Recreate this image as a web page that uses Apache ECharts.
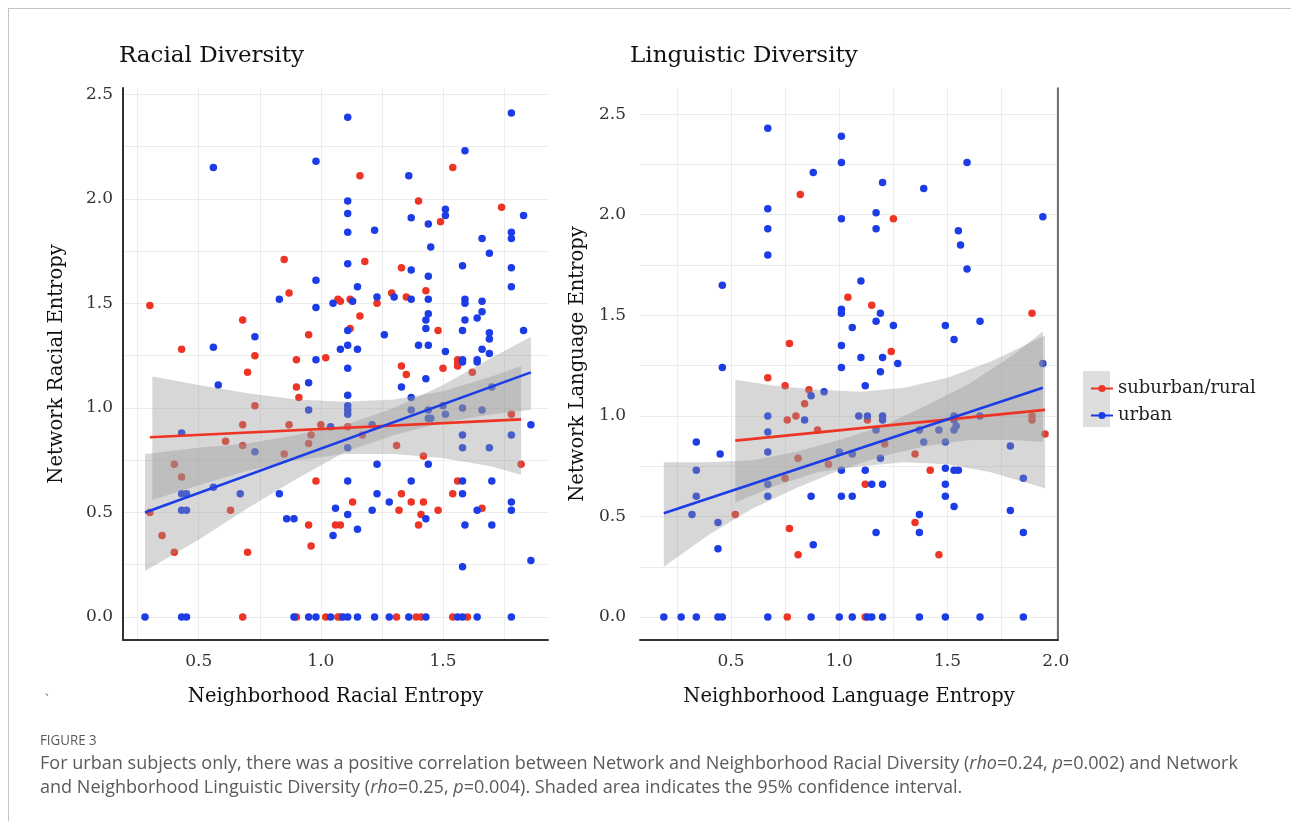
<!DOCTYPE html>
<html><head><meta charset="utf-8">
<script src="https://cdn.jsdelivr.net/npm/echarts@6/dist/echarts.min.js"></script>
<style>
html,body{margin:0;padding:0;background:#fff;overflow:hidden;}
#chart{position:absolute;left:0;top:0;width:1291px;height:821px;}
#frame{position:absolute;left:8px;top:8px;width:1290px;height:820px;border-left:1px solid #c4c4c4;border-top:1px solid #c4c4c4;pointer-events:none;}
.cap{position:absolute;font-family:'Open Sans',sans-serif;color:#5a5a5a;white-space:nowrap;transform-origin:0 0;}
</style></head><body>
<div id="chart"></div>
<div id="frame"></div>
<div class="cap" style="left:45px;top:690px;font-size:14px;color:#777;">`</div>
<div class="cap" id="fig" style="left:40px;top:730px;font-size:14px;">FIGURE 3</div>
<div class="cap" id="l1" style="left:40px;top:749px;font-size:19px;">For urban subjects only, there was a positive correlation between Network and Neighborhood Racial Diversity (<i>rho</i>=0.24, <i>p</i>=0.002) and Network</div>
<div class="cap" id="l2" style="left:40px;top:773px;font-size:19px;">and Neighborhood Linguistic Diversity (<i>rho</i>=0.25, <i>p</i>=0.004). Shaded area indicates the 95% confidence interval.</div>
<script>
// ---------- DATA ----------
// Racial diversity panel: [neighborhood entropy, network entropy]
var racialRural = [
 [0.85,1.71],[0.87,1.55],[0.30,1.49],[1.07,1.52],[0.68,1.42],[0.95,1.35],[0.43,1.28],[0.73,1.25],[0.90,1.23],[1.02,1.24],
 [1.54,2.15],[1.16,2.11],[1.40,1.99],[1.49,1.89],[1.74,1.96],[1.18,1.70],[1.33,1.67],[1.43,1.56],[1.08,1.51],[1.12,1.52],
 [1.23,1.50],[1.29,1.55],[1.35,1.53],[1.16,1.44],[1.12,1.38],[1.48,1.37],[1.56,1.23],
 [0.70,1.17],[0.90,1.10],[0.91,1.05],[0.73,1.01],[0.68,0.92],[0.87,0.92],[1.00,0.92],[0.96,0.87],[0.61,0.84],[0.68,0.82],
 [0.95,0.83],[0.85,0.78],[0.40,0.73],[0.43,0.67],[0.98,0.65],[0.30,0.50],[0.63,0.51],[0.95,0.44],[1.06,0.44],[0.35,0.39],
 [0.40,0.31],[0.70,0.31],[0.96,0.34],
 [1.33,1.20],[1.35,1.16],[1.50,1.19],[1.56,1.20],[1.56,1.22],[1.62,1.17],[1.78,0.97],[1.11,0.91],[1.17,0.87],[1.31,0.82],
 [1.42,0.77],[1.82,0.73],[1.56,0.65],[1.33,0.59],[1.54,0.59],[1.13,0.55],[1.37,0.55],[1.42,0.55],[1.32,0.51],[1.41,0.49],
 [1.48,0.51],[1.66,0.52],[1.08,0.44],[1.40,0.44],
 [0.68,0],[0.90,0],[1.02,0],[1.07,0],[1.08,0],[1.31,0],[1.39,0],[1.41,0],[1.54,0],[1.60,0]
];
var racialUrban = [
 [0.56,2.15],[0.98,2.18],[0.98,1.61],[0.83,1.52],[0.98,1.48],[1.05,1.50],[0.73,1.34],[0.56,1.29],[0.98,1.23],[1.08,1.28],
 [1.11,2.39],[1.78,2.41],[1.59,2.23],[1.36,2.11],[1.11,1.99],[1.11,1.93],[1.37,1.91],[1.51,1.95],[1.51,1.92],[1.83,1.92],
 [1.44,1.88],[1.11,1.84],[1.22,1.85],[1.78,1.84],[1.78,1.81],[1.66,1.81],[1.45,1.77],[1.69,1.74],[1.11,1.69],[1.37,1.66],
 [1.58,1.68],[1.78,1.67],[1.44,1.63],[1.78,1.58],[1.15,1.58],[1.13,1.51],[1.23,1.53],[1.30,1.53],[1.37,1.52],[1.44,1.52],
 [1.59,1.52],[1.59,1.50],[1.66,1.51],[1.44,1.45],[1.43,1.42],[1.66,1.46],[1.64,1.43],[1.59,1.42],[1.11,1.37],[1.26,1.35],
 [1.43,1.38],[1.58,1.37],[1.69,1.36],[1.83,1.37],[1.69,1.33],[1.11,1.30],[1.15,1.28],[1.40,1.30],[1.44,1.30],[1.51,1.27],
 [1.66,1.28],[1.69,1.26],[1.58,1.23],[1.64,1.23],
 [0.58,1.11],[0.95,1.12],[0.95,0.99],[1.04,0.91],[0.43,0.88],[0.73,0.79],[0.43,0.59],[0.45,0.59],[0.56,0.62],[0.67,0.59],
 [0.83,0.59],[0.43,0.51],[0.45,0.51],[1.06,0.52],[0.86,0.47],[0.89,0.47],[1.05,0.39],
 [1.11,1.19],[1.43,1.14],[1.58,1.22],[1.64,1.22],[1.33,1.10],[1.70,1.10],[1.11,1.06],[1.37,1.05],[1.11,1.01],[1.11,0.99],
 [1.11,0.97],[1.37,0.99],[1.44,0.99],[1.50,1.01],[1.58,1.00],[1.66,0.99],[1.51,0.97],[1.44,0.95],[1.45,0.95],[1.21,0.92],
 [1.86,0.92],[1.58,0.87],[1.78,0.87],[1.11,0.81],[1.58,0.81],[1.69,0.81],[1.23,0.73],[1.44,0.73],[1.11,0.65],[1.37,0.65],
 [1.58,0.65],[1.70,0.65],[1.23,0.59],[1.58,0.59],[1.28,0.55],[1.78,0.55],[1.11,0.49],[1.21,0.51],[1.43,0.47],[1.64,0.51],
 [1.78,0.51],[1.15,0.42],[1.59,0.44],[1.70,0.44],[1.58,0.24],[1.86,0.27],
 [0.28,0],[0.43,0],[0.45,0],[0.89,0],[0.95,0],[0.98,0],[1.04,0],[1.09,0],[1.11,0],[1.15,0],[1.22,0],[1.28,0],[1.36,0],
 [1.43,0],[1.56,0],[1.58,0],[1.64,0],[1.78,0]
];
// Linguistic diversity panel
var lingRural = [
 [0.82,2.10],[1.04,1.59],[0.77,1.36],[1.25,1.98],[1.15,1.55],[1.89,1.51],[1.24,1.32],[0.67,1.19],[0.75,1.15],[0.86,1.13],
 [0.84,1.06],[0.80,1.00],[0.76,0.98],[1.13,0.98],[1.89,1.00],[1.89,0.98],[1.95,0.91],[0.90,0.93],[1.21,0.86],[0.81,0.79],
 [1.35,0.81],[0.95,0.76],[1.42,0.73],[0.75,0.69],[1.12,0.66],[0.52,0.51],[1.35,0.47],[0.77,0.44],[0.81,0.31],[1.46,0.31],
 [0.76,0],[1.12,0]
];
var lingUrban = [
 [0.67,2.43],[1.01,2.39],[1.01,2.26],[0.88,2.21],[0.67,2.03],[1.01,1.98],[0.67,1.93],[0.67,1.80],[0.46,1.65],[1.01,1.53],
 [1.01,1.51],[1.06,1.44],[1.01,1.35],[1.59,2.26],[1.20,2.16],[1.39,2.13],[1.17,2.01],[1.17,1.93],[1.55,1.92],[1.56,1.85],
 [1.94,1.99],[1.59,1.73],[1.10,1.67],[1.19,1.51],[1.17,1.47],[1.25,1.45],[1.49,1.45],[1.65,1.47],[1.53,1.38],[1.10,1.29],
 [1.20,1.29],[1.27,1.26],[1.94,1.26],[0.46,1.24],[1.01,1.24],[1.19,1.22],[1.12,1.15],[0.93,1.12],[0.87,1.10],[0.67,1.00],
 [0.84,0.98],[1.09,1.00],[1.13,1.00],[1.20,1.00],[1.20,0.98],[1.53,1.00],[1.65,1.00],[1.53,0.98],[1.54,0.95],[0.67,0.92],
 [1.17,0.93],[1.37,0.93],[1.46,0.93],[1.53,0.93],[0.34,0.87],[0.45,0.81],[0.67,0.82],[1.39,0.87],[1.49,0.87],[1.79,0.85],
 [1.00,0.82],[1.06,0.81],[1.19,0.79],[0.34,0.73],[1.01,0.73],[1.12,0.73],[1.49,0.74],[1.53,0.73],[1.55,0.73],[1.85,0.69],
 [0.67,0.66],[1.15,0.66],[1.20,0.66],[1.49,0.66],[0.34,0.60],[0.67,0.60],[0.87,0.60],[1.01,0.60],[1.06,0.60],[1.49,0.60],
 [1.53,0.55],[0.32,0.51],[0.44,0.47],[1.37,0.51],[1.79,0.53],[1.17,0.42],[1.37,0.42],[1.85,0.42],[0.44,0.34],[0.88,0.36],
 [0.19,0],[0.27,0],[0.34,0],[0.44,0],[0.46,0],[0.67,0],[0.87,0],[1.00,0],[1.06,0],[1.13,0],[1.15,0],[1.20,0],[1.37,0],
 [1.49,0],[1.65,0],[1.85,0]
];
// Fitted lines (end points)
var racialRuralFit = [[0.30,0.86],[1.82,0.945]];
var racialUrbanFit = [[0.28,0.50],[1.86,1.17]];
var lingRuralFit = [[0.52,0.877],[1.95,1.03]];
var lingUrbanFit = [[0.19,0.516],[1.94,1.14]];
// 95% confidence bands: x, lower, upper
var racialRuralBandX = [0.31,0.5,0.7,0.9,1.1,1.3,1.5,1.7,1.82];
var racialRuralBandLo = [0.56,0.63,0.70,0.75,0.78,0.78,0.76,0.72,0.68];
var racialRuralBandHi = [1.15,1.11,1.07,1.04,1.03,1.04,1.08,1.15,1.20];
var racialUrbanBandX = [0.28,0.5,0.7,0.9,1.1,1.3,1.5,1.7,1.86];
var racialUrbanBandLo = [0.22,0.37,0.52,0.66,0.79,0.87,0.93,0.97,0.99];
var racialUrbanBandHi = [0.78,0.81,0.83,0.87,0.92,1.00,1.11,1.24,1.34];
var lingRuralBandX = [0.52,0.7,0.9,1.1,1.3,1.5,1.7,1.95];
var lingRuralBandLo = [0.57,0.65,0.72,0.75,0.77,0.76,0.72,0.64];
var lingRuralBandHi = [1.18,1.15,1.13,1.12,1.14,1.19,1.27,1.40];
var lingUrbanBandX = [0.19,0.4,0.6,0.8,1.0,1.2,1.4,1.6,1.8,1.94];
var lingUrbanBandLo = [0.25,0.41,0.54,0.64,0.73,0.80,0.85,0.88,0.88,0.87];
var lingUrbanBandHi = [0.77,0.77,0.78,0.82,0.88,0.95,1.05,1.16,1.30,1.42];
// Axes ticks / gridlines
var racialXGrid = [0.25,0.5,0.75,1.0,1.25,1.5,1.75];
var racialXTicks = [0.5,1.0,1.5];
var lingXGrid = [0.25,0.5,0.75,1.0,1.25,1.5,1.75,2.0];
var lingXTicks = [0.5,1.0,1.5,2.0];
var yGrid = [0,0.25,0.5,0.75,1.0,1.25,1.5,1.75,2.0,2.25,2.5];
var yTicks = [0,0.5,1.0,1.5,2.0,2.5];
var groupNames = ['suburban/rural','urban'];

// ---------- CHART ----------
var RED = '#ee3424', BLUE = '#1c3ce6';
var SERIF = 'DejaVu Serif';
var chart = echarts.init(document.getElementById('chart'), null, {renderer:'canvas'});
function fmt(v){ return Number(v).toFixed(1); }
function xAxisDef(gi, min, max, grid, ticks, name){
  return {gridIndex:gi, type:'value', min:min, max:max,
    axisLine:{show:true, onZero:false, lineStyle:{color:'#333', width:2}},
    axisTick:{show:false, customValues:grid},
    axisLabel:{customValues:ticks, formatter:fmt, margin:13, fontFamily:SERIF, fontSize:17, color:'#333'},
    splitLine:{show:true, lineStyle:{color:'#ececec', width:1}},
    name:name, nameLocation:'middle', nameGap:47,
    nameTextStyle:{fontFamily:SERIF, fontSize:19.5, color:'#111'}};
}
function yAxisDef(gi, min, max, showLine, name, gap, margin){
  return {gridIndex:gi, type:'value', min:min, max:max,
    axisLine:{show:showLine, onZero:false, lineStyle:{color:'#333', width:2}},
    axisTick:{show:false, customValues:yGrid},
    axisLabel:{customValues:yTicks, formatter:fmt, margin:margin, fontFamily:SERIF, fontSize:17, color:'#333'},
    splitLine:{show:true, lineStyle:{color:'#ececec', width:1}},
    name:name, nameLocation:'middle', nameGap:gap,
    nameTextStyle:{fontFamily:SERIF, fontSize:19.5, color:'#111'}};
}
function lineSeries(name, data, color, xi, yi){
  return {type:'line', name:name, data:data, xAxisIndex:xi, yAxisIndex:yi, z:5,
    symbol:'circle', symbolSize:7, showSymbol:false, silent:true,
    lineStyle:{color:color, width:2.6}, itemStyle:{color:color}, animation:false};
}
function scatterSeries(name, data, color, xi, yi){
  return {type:'scatter', name:name, data:data, xAxisIndex:xi, yAxisIndex:yi, z:2,
    symbolSize:7.5, itemStyle:{color:color, opacity:1}, silent:true, animation:false};
}
function bandSeries(xs, lo, hi, xi, yi){
  return {type:'custom', xAxisIndex:xi, yAxisIndex:yi, z:3, silent:true, animation:false,
    data:[[xs[0], lo[0]]],
    renderItem:function(params, api){
      var pts = [];
      for (var i=0;i<xs.length;i++) pts.push(api.coord([xs[i], hi[i]]));
      for (var j=xs.length-1;j>=0;j--) pts.push(api.coord([xs[j], lo[j]]));
      return {type:'polygon', shape:{points:pts}, style:{fill:'rgba(150,150,150,0.38)'}};
    }};
}
var option = {
  animation:false,
  backgroundColor:'#fff',
  title:[
    {text:'Racial Diversity', left:119, top:45, padding:0, textStyle:{fontFamily:SERIF, fontSize:23, fontWeight:'normal', color:'#111'}},
    {text:'Linguistic Diversity', left:630, top:45, padding:0, textStyle:{fontFamily:SERIF, fontSize:23, fontWeight:'normal', color:'#111'}}
  ],
  legend:{orient:'vertical', left:1085, top:373, itemWidth:22, itemHeight:9, itemGap:6, selectedMode:false,
    data:groupNames, textStyle:{fontFamily:SERIF, fontSize:18, color:'#222', lineHeight:21}},
  graphic:[{type:'rect', left:1083, top:371, z:0, shape:{width:27, height:56}, style:{fill:'#dedede'}}],
  grid:[
    {left:123, top:88, width:425, height:552},
    {left:640, top:88, width:418, height:552}
  ],
  xAxis:[
    xAxisDef(0, 0.19, 1.93, racialXGrid, racialXTicks, 'Neighborhood Racial Entropy'),
    xAxisDef(1, 0.08, 2.01, lingXGrid, lingXTicks, 'Neighborhood Language Entropy')
  ],
  yAxis:[
    yAxisDef(0, -0.11, 2.53, true, 'Network Racial Entropy', 56, 10),
    yAxisDef(1, -0.114, 2.63, false, 'Network Language Entropy', 52, 14),
    {gridIndex:1, type:'value', position:'right', min:-0.114, max:2.63,
     axisLine:{show:true, onZero:false, lineStyle:{color:'#444', width:1.5}},
     axisTick:{show:false}, axisLabel:{show:false}, splitLine:{show:false}}
  ],
  series:[
    lineSeries(groupNames[0], racialRuralFit, RED, 0, 0),
    lineSeries(groupNames[1], racialUrbanFit, BLUE, 0, 0),
    lineSeries(groupNames[0], lingRuralFit, RED, 1, 1),
    lineSeries(groupNames[1], lingUrbanFit, BLUE, 1, 1),
    scatterSeries(groupNames[0], racialRural, RED, 0, 0),
    scatterSeries(groupNames[1], racialUrban, BLUE, 0, 0),
    scatterSeries(groupNames[0], lingRural, RED, 1, 1),
    scatterSeries(groupNames[1], lingUrban, BLUE, 1, 1),
    bandSeries(racialRuralBandX, racialRuralBandLo, racialRuralBandHi, 0, 0),
    bandSeries(racialUrbanBandX, racialUrbanBandLo, racialUrbanBandHi, 0, 0),
    bandSeries(lingRuralBandX, lingRuralBandLo, lingRuralBandHi, 1, 1),
    bandSeries(lingUrbanBandX, lingUrbanBandLo, lingUrbanBandHi, 1, 1)
  ]
};
chart.setOption(option);
// fit caption width to reference line length
(function(){
  var l1 = document.getElementById('l1'), l2 = document.getElementById('l2'), fig = document.getElementById('fig');
  var s = 1198 / l1.getBoundingClientRect().width;
  l1.style.transform = 'scaleX(' + s + ')';
  l2.style.transform = 'scaleX(' + s + ')';
  fig.style.transform = 'scaleX(' + s + ')';
})();
</script>
</body></html>
